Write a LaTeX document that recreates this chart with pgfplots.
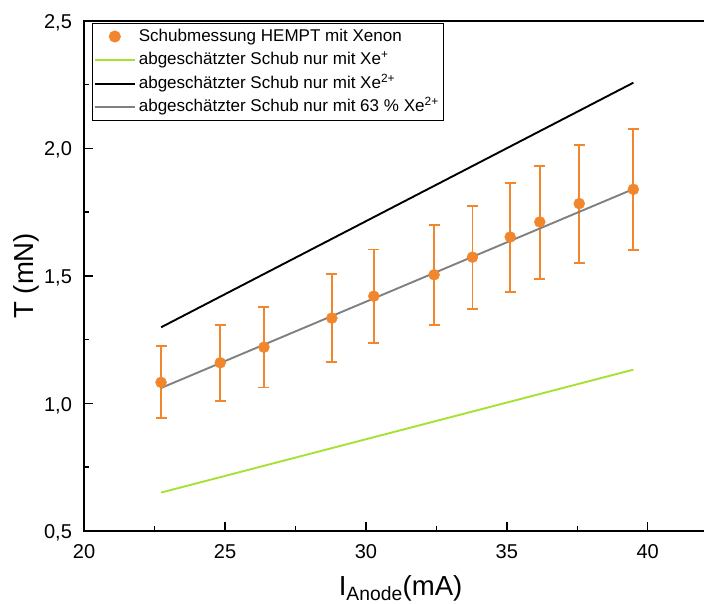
\documentclass[border=0pt]{standalone}
\usepackage{fontspec}
\setmainfont{Liberation Sans}
\usepackage{pgfplots}
\usepackage{pgfplotstable}
\pgfplotsset{compat=1.18}
\definecolor{orgC}{RGB}{242,134,44}
\definecolor{grnC}{RGB}{166,226,50}
\definecolor{gryC}{RGB}{128,128,128}

\pgfplotstableread{
x      y      ep     em
22.73  1.082  0.142  0.139
24.83  1.159  0.149  0.151
26.38  1.220  0.158  0.158
28.79  1.334  0.173  0.173
30.28  1.420  0.183  0.184
32.42  1.504  0.194  0.196
33.78  1.573  0.201  0.204
35.12  1.652  0.211  0.215
36.17  1.711  0.218  0.223
37.57  1.783  0.229  0.232
39.49  1.839  0.236  0.239
}\meas

\begin{document}
\begin{tikzpicture}
\begin{axis}[name=ax,
  scale only axis, width=621.8pt, height=509.3pt,
  xmin=20, xmax=42.1, ymin=0.5, ymax=2.5,
  xtick={20,25,30,35,40}, ytick={0.5,1,1.5,2,2.5},
  minor x tick num=1, minor y tick num=1,
  xtick pos=bottom, ytick pos=left,
  tick align=inside,
  major tick length=8.5pt, minor tick length=4.5pt,
  axis line style={line width=2pt, black},
  every tick/.style={black, line width=1.5pt},
  /pgf/number format/assume math mode=true,
  tick label style={font=\fontsize{20}{24}\selectfont},
  xticklabel style={inner sep=0pt, yshift=-13pt},
  yticklabel style={inner sep=0pt, xshift=-12pt, yshift=-2pt,
     /pgf/number format/.cd, fixed, fixed zerofill, precision=1, use comma},
  xlabel={I\textsubscript{Anode}(mA)},
  ylabel={T (mN)},
  label style={font=\fontsize{27.5}{32}\selectfont},
  xlabel style={at={(axis description cs:0.5082,0)}, anchor=north, inner sep=0pt, yshift=-44pt},
  ylabel style={at={(axis description cs:-0.0933,0.5)}, anchor=center, inner sep=0pt},
  legend cell align=left,
  legend image code/.code={\draw[mark repeat=2,mark phase=2,#1] plot coordinates {(0pt,0pt)(20pt,0pt)(40pt,0pt)};},
  legend style={at={(axis description cs:0,1)}, anchor=north west, xshift=7.7pt, yshift=-2pt,
     draw=black, line width=1pt, inner sep=1.5pt, row sep=0pt,
     font=\fontsize{17}{20}\selectfont,
     nodes={inner sep=3pt, text height=13.5pt, text depth=4pt}},
]
\addplot[only marks, mark=*, mark size=5.5pt, color=orgC,
  error bars/.cd, y dir=both, y explicit,
  error bar style={line width=1.8pt, orgC},
  error mark options={rotate=90, line width=1.8pt, mark size=5.5pt, orgC}]
  table[x=x, y=y, y error plus=ep, y error minus=em] {\meas};
\addlegendentry{Schubmessung HEMPT mit Xenon}
\addplot[grnC, line width=1.9pt, no marks] coordinates {(22.73,0.650) (39.49,1.132)};
\addlegendentry{abgeschätzter Schub nur mit Xe\textsuperscript{+}}
\addplot[black, line width=1.9pt, no marks] coordinates {(22.73,1.298) (39.49,2.257)};
\addlegendentry{abgeschätzter Schub nur mit Xe\textsuperscript{2+}}
\addplot[gryC, line width=1.9pt, no marks] coordinates {(22.73,1.060) (39.49,1.840)};
\addlegendentry{abgeschätzter Schub nur mit 63 \% Xe\textsuperscript{2+}}
\end{axis}
\pgfresetboundingbox
\path (ax.south west) ++(-84pt,-73pt) coordinate (bl);
\path (ax.north west) ++(618.9pt,20.7pt) coordinate (tr);
\path (bl) rectangle (tr);
\end{tikzpicture}
\end{document}
